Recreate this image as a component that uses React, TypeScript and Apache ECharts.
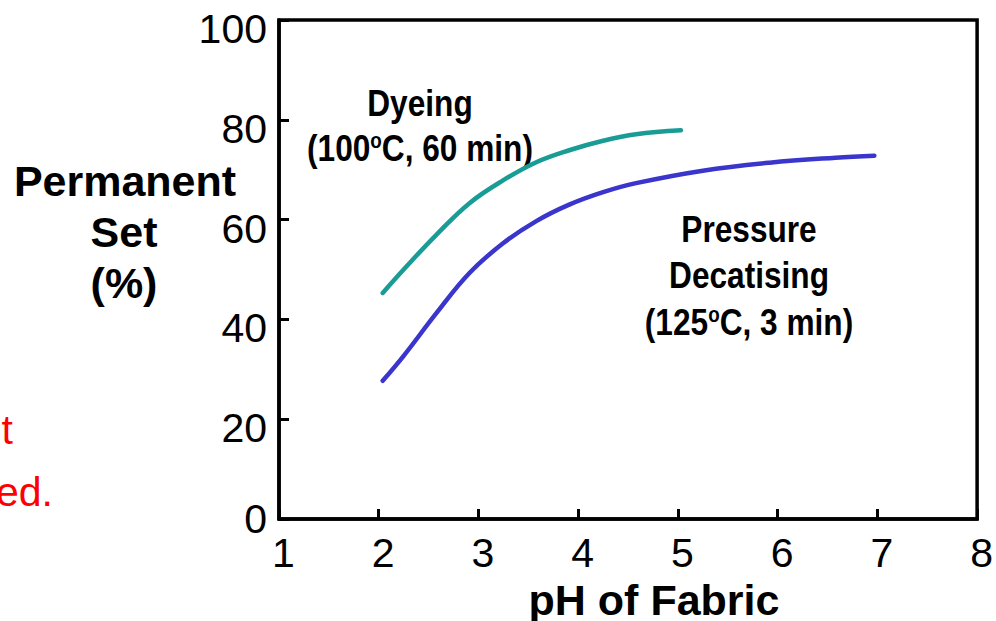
import React, { useEffect, useRef } from "react";
import * as echarts from "echarts";

const phTicks = [1, 2, 3, 4, 5, 6, 7, 8];
const setTicks = [0, 20, 40, 60, 80, 100];

const dyeingPH = [2.04, 2.25, 2.58, 2.91, 3.25, 3.58, 3.91, 4.25, 4.58, 5.03];
const dyeingSet = [45.3, 50, 57, 63.3, 67.9, 71.5, 73.9, 75.8, 77.1, 77.9];

const decatPH = [2.04, 2.25, 2.58, 2.91, 3.25, 3.58, 3.91, 4.25, 4.58, 5.25, 5.92, 6.58, 6.97];
const decatSet = [27.7, 32.7, 41.3, 49.3, 55.3, 59.7, 63, 65.5, 67.3, 69.8, 71.4, 72.4, 72.8];

const FONT = "'Liberation Sans', Arial, sans-serif";

export default function App() {
  const ref = useRef<HTMLDivElement>(null);
  useEffect(() => {
    if (!ref.current) return;
    const chart = echarts.init(ref.current, undefined, { renderer: "svg" });
    const labelFont = { fontFamily: FONT, fontWeight: "bold" as const, fontSize: 37, fill: "#000" };
    const rich = {
      a: { fontFamily: FONT, fontWeight: "bold", fontSize: 37, color: "#000" },
      s: { fontFamily: FONT, fontWeight: "bold", fontSize: 22, color: "#000", verticalAlign: "top", padding: [0, 0, 16, 0] },
    };
    const narrow = 0.855;
    const titleStyle = { textAlign: "center" as const, textVerticalAlign: "middle" as const, fontFamily: FONT, fontWeight: "bold" as const, fontSize: 43, fill: "#000" };
    chart.setOption({
      animation: false,
      backgroundColor: "#fff",
      grid: {
        left: 279,
        right: 18,
        top: 20,
        bottom: 102,
        show: true,
        borderColor: "#000",
        borderWidth: 3.5,
      },
      xAxis: {
        type: "value",
        min: phTicks[0],
        max: phTicks[phTicks.length - 1],
        interval: 1,
        splitLine: { show: false },
        axisLine: { lineStyle: { color: "#000", width: 3.5 } },
        axisTick: { inside: true, length: 10, lineStyle: { color: "#000", width: 3 } },
        axisLabel: { color: "#000", fontFamily: FONT, fontSize: 41, margin: 13, padding: [0, 0, 0, 9] },
      },
      yAxis: {
        type: "value",
        min: setTicks[0],
        max: setTicks[setTicks.length - 1],
        interval: 20,
        splitLine: { show: false },
        axisLine: { lineStyle: { color: "#000", width: 3.5 } },
        axisTick: { inside: true, length: 10, lineStyle: { color: "#000", width: 3 } },
        axisLabel: {
          margin: 12,
          formatter: (v: number) => (v === 0 ? `{z|${v}}` : `{n|${v}}`),
          rich: {
            z: { color: "#000", fontFamily: FONT, fontSize: 41 },
            n: { color: "#000", fontFamily: FONT, fontSize: 41, padding: [18, 0, 0, 0] },
          },
        },
      },
      series: [
        {
          name: "Dyeing",
          type: "line",
          data: dyeingPH.map((x, i) => [x, dyeingSet[i]]),
          smooth: 0.4,
          showSymbol: false,
          lineStyle: { color: "#1a9c96", width: 4.5, cap: "round" },
        },
        {
          name: "Pressure Decatising",
          type: "line",
          data: decatPH.map((x, i) => [x, decatSet[i]]),
          smooth: 0.4,
          showSymbol: false,
          lineStyle: { color: "#3a35cc", width: 4.5, cap: "round" },
        },
      ],
      graphic: [
        { type: "text", x: 125, y: 181, style: { text: "Permanent", ...titleStyle } },
        { type: "text", x: 124, y: 232, style: { text: "Set", ...titleStyle } },
        { type: "text", x: 124, y: 283, style: { text: "(%)", ...titleStyle } },
        { type: "text", x: 654, y: 600, style: { text: "pH of Fabric", ...titleStyle } },
        { type: "text", x: 420, y: 103, scaleX: narrow, style: { text: "Dyeing", textAlign: "center", textVerticalAlign: "middle", ...labelFont } },
        { type: "text", x: 420, y: 148, scaleX: narrow, style: { text: "{a|(100}{s|o}{a|C, 60 min)}", rich, textAlign: "center", textVerticalAlign: "middle" } },
        { type: "text", x: 749, y: 229, scaleX: narrow, style: { text: "Pressure", textAlign: "center", textVerticalAlign: "middle", ...labelFont } },
        { type: "text", x: 749, y: 275, scaleX: narrow, style: { text: "Decatising", textAlign: "center", textVerticalAlign: "middle", ...labelFont } },
        { type: "text", x: 749, y: 322, scaleX: narrow, style: { text: "{a|(125}{s|o}{a|C, 3 min)}", rich, textAlign: "center", textVerticalAlign: "middle" } },
        { type: "text", x: 13, y: 430, style: { text: "t", textAlign: "right", textVerticalAlign: "middle", fontFamily: FONT, fontSize: 41, fill: "#ff0000" } },
        { type: "text", x: 53, y: 492, style: { text: "ed.", textAlign: "right", textVerticalAlign: "middle", fontFamily: FONT, fontSize: 41, fill: "#ff0000" } },
      ],
    });
    return () => chart.dispose();
  }, []);
  return (
    <div
      ref={ref}
      style={{ position: "fixed", left: 0, top: 0, width: 996, height: 621, background: "#fff" }}
    />
  );
}
